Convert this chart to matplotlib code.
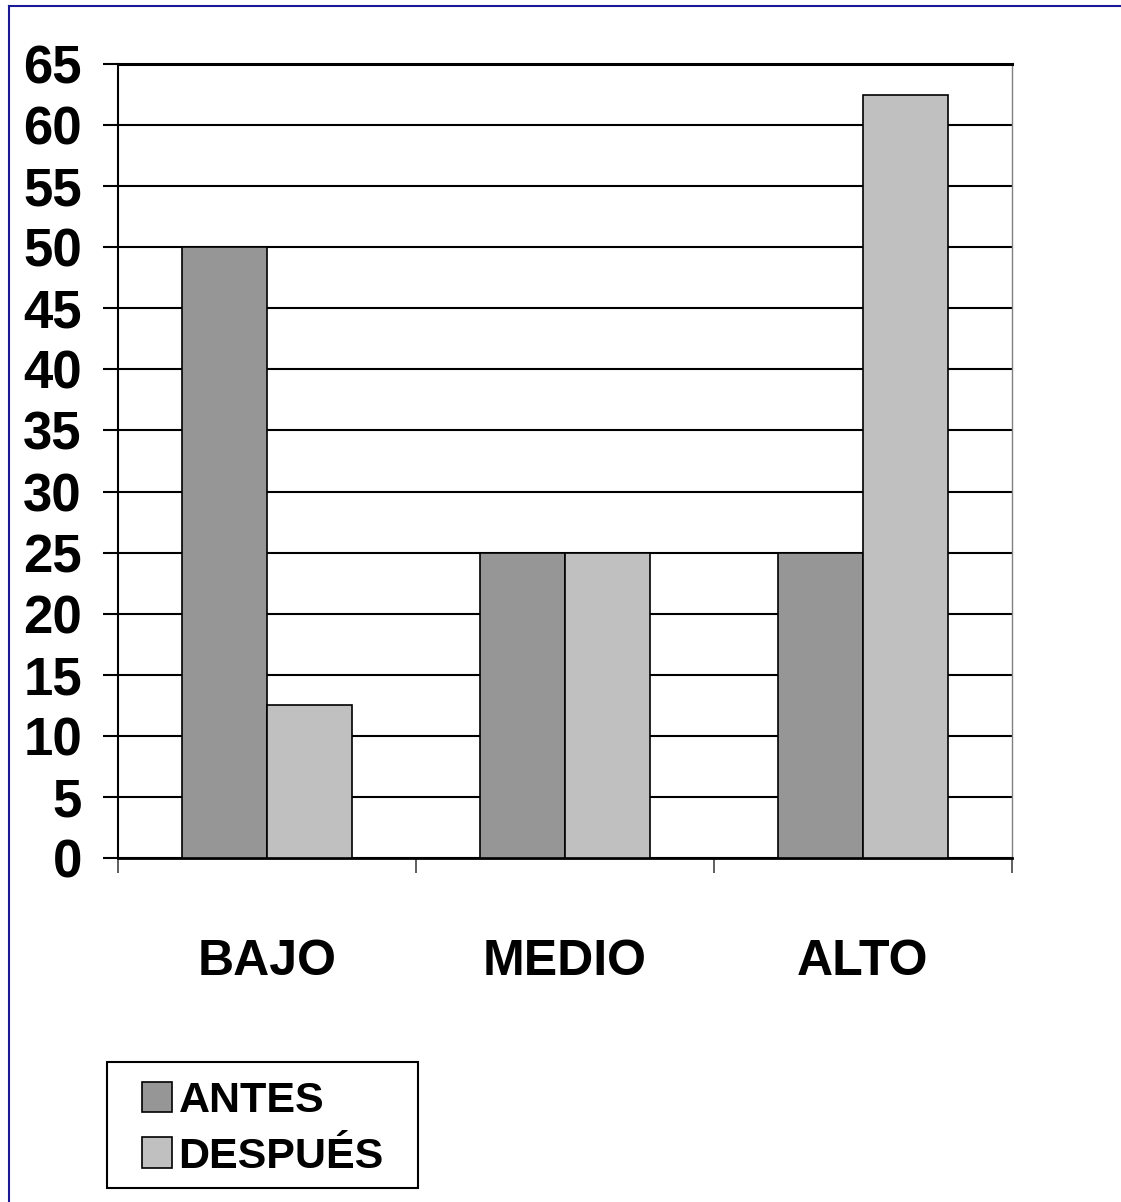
import matplotlib
matplotlib.use('Agg')
import matplotlib.pyplot as plt
import numpy as np
from matplotlib.lines import Line2D
from matplotlib.patches import Rectangle

# data
categories = ['BAJO', 'MEDIO', 'ALTO']
antes = [50, 25, 25]
despues = [12.5, 25, 62.5]
series_names = ['ANTES', 'DESPUÉS']
yticks = list(range(0, 70, 5))

plt.rcParams['font.family'] = ['Liberation Sans', 'DejaVu Sans']
plt.rcParams['font.weight'] = 'bold'

W, H = 1121, 1202
fig = plt.figure(figsize=(W / 100, H / 100), dpi=100)
ax = fig.add_axes([118 / W, 344 / H, 894 / W, 794 / H])

x = np.arange(len(categories))
w = 0.285
b1 = ax.bar(x - w / 2, antes, w, color='#969696', edgecolor='black', linewidth=1.2, zorder=3)
b2 = ax.bar(x + w / 2, despues, w, color='#c0c0c0', edgecolor='black', linewidth=1.2, zorder=3)

ax.set_xlim(-0.5, len(categories) - 0.5)
ax.set_ylim(0, 65)

ax.set_yticks(yticks)
ax.set_yticklabels([str(t) for t in yticks], fontsize=38, fontweight='bold')
ax.tick_params(axis='y', direction='out', length=11, width=1.5, pad=15)
ax.yaxis.grid(True, color='black', linewidth=1.5, zorder=0)
ax.set_axisbelow(True)

# major ticks between categories, labels on minor ticks at centres
ax.set_xticks(np.arange(-0.5, len(categories), 1.0))
ax.set_xticklabels([])
ax.tick_params(axis='x', which='major', direction='out', length=11, width=1.2, color='#444444')
ax.set_xticks(x, minor=True)
ax.set_xticklabels(categories, minor=True, fontsize=36, fontweight='bold')
ax.tick_params(axis='x', which='minor', length=0, pad=58)

ax.spines['top'].set_color('black')
ax.spines['top'].set_linewidth(2.2)
ax.spines['left'].set_linewidth(1.5)
ax.spines['bottom'].set_linewidth(2)
ax.spines['right'].set_color('#808080')
ax.spines['right'].set_linewidth(1)

# legend box drawn separately so its padding matches the original
fig.add_artist(Rectangle((107 / W, 1 - 1188 / H), 311 / W, 126 / H, transform=fig.transFigure,
                         facecolor='white', edgecolor='black', linewidth=1.5))
leg = fig.legend([b1, b2], series_names, loc='upper left',
                 bbox_to_anchor=(142 / W, 1 - 1081 / H), borderaxespad=0,
                 prop={'weight': 'bold', 'size': 31},
                 handlelength=0.7, handleheight=0.7, handletextpad=0.15,
                 labelspacing=0.36, borderpad=0, frameon=False)

# blue border of the original picture (left and top only)
fig.add_artist(Line2D([9 / W, 9 / W], [0, 1 - 6 / H], color='#1a1a99',
                      linewidth=1.5, transform=fig.transFigure))
fig.add_artist(Line2D([9 / W, 1], [1 - 6 / H, 1 - 6 / H], color='#1a1a99',
                      linewidth=1.5, transform=fig.transFigure))

plt.savefig('out.png', dpi=100)
